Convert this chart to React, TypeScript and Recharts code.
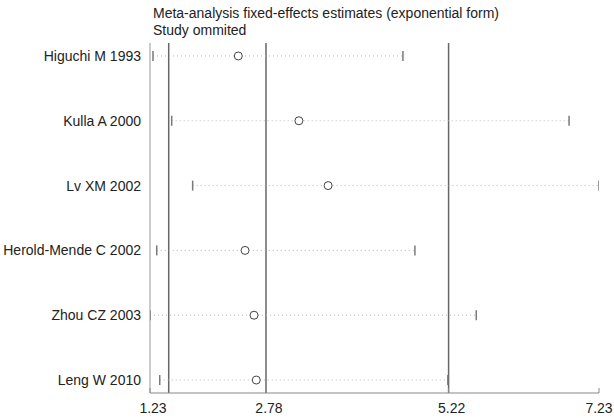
import { ScatterChart, Scatter, XAxis, YAxis, ReferenceLine } from "recharts";

const studies = [
  "Higuchi M 1993",
  "Kulla A 2000",
  "Lv XM 2002",
  "Herold-Mende C 2002",
  "Zhou CZ 2003",
  "Leng W 2010",
];
const estimates = [2.41, 3.22, 3.61, 2.5, 2.62, 2.65];
const lowerCI = [1.27, 1.52, 1.8, 1.32, 1.23, 1.36];
const upperCI = [4.61, 6.83, 7.23, 4.77, 5.59, 5.21];
// overall lower CI, estimate, upper CI
const overallLines = [1.48, 2.78, 5.22];
const xTicks = [1.23, 2.78, 5.22, 7.23];

const FONT = '"Liberation Sans", Arial, sans-serif';

const rows = studies.map((_, i) => i + 1);
const estData = estimates.map((v, i) => ({ x: v, y: rows[i] }));
const ciData = studies.map((_, i) => [
  { x: lowerCI[i], y: rows[i] },
  { x: upperCI[i], y: rows[i] },
]);

const Cap = (props: any) => (
  <line
    x1={props.cx}
    x2={props.cx}
    y1={props.cy - 5}
    y2={props.cy + 5}
    stroke="#7a7a7a"
    strokeWidth={1.5}
  />
);

const Dot = (props: any) => (
  <circle cx={props.cx} cy={props.cy} r={4} fill="#fff" stroke="#444" strokeWidth={1} />
);

const XTick = (props: any) => {
  const { x, y, payload } = props;
  // keep the last label inside the picture
  const tx = Math.min(x + 3, 599);
  return (
    <g>
      <line x1={x} x2={x} y1={y} y2={y - 5} stroke="#888" />
      <text x={tx} y={y + 20} textAnchor="middle" fontSize={14} fill="#222" fontFamily={FONT}>
        {payload.value}
      </text>
    </g>
  );
};

export default function App() {
  return (
    <div
      style={{
        position: "absolute",
        left: 0,
        top: 0,
        width: 614,
        height: 418,
        background: "#fff",
        fontFamily: FONT,
      }}
    >
      <div
        style={{
          position: "absolute",
          left: 153,
          top: 5,
          fontSize: 14,
          lineHeight: "16.5px",
          color: "#222",
          whiteSpace: "nowrap",
        }}
      >
        Meta-analysis fixed-effects estimates (exponential form)
        <br />
        Study ommited
      </div>
      <ScatterChart width={614} height={418} margin={{ top: 43, right: 15, bottom: 5, left: 0 }}>
        <XAxis
          type="number"
          dataKey="x"
          domain={[1.23, 7.23]}
          ticks={xTicks}
          allowDataOverflow
          height={20}
          tickLine={false}
          tickSize={0}
          tickMargin={0}
          axisLine={{ stroke: "#888" }}
          tick={<XTick />}
        />
        <YAxis
          type="number"
          dataKey="y"
          domain={[0.8, 6.2]}
          reversed
          ticks={rows}
          interval={0}
          width={150}
          tickLine={false}
          tickSize={0}
          tickMargin={9}
          axisLine={{ stroke: "#999" }}
          tickFormatter={(v: number) => studies[v - 1]}
          tick={{ fontSize: 14, fill: "#222", fontFamily: FONT }}
        />
        {overallLines.map((v) => (
          <ReferenceLine key={v} x={v} stroke="#666" strokeWidth={1.5} />
        ))}
        {ciData.map((d, i) => (
          <Scatter
            key={studies[i]}
            data={d}
            line={{ stroke: "#b5b5b5", strokeWidth: 1, strokeDasharray: "1 3" }}
            shape={<Cap />}
            isAnimationActive={false}
          />
        ))}
        <Scatter data={estData} shape={<Dot />} isAnimationActive={false} />
      </ScatterChart>
    </div>
  );
}
